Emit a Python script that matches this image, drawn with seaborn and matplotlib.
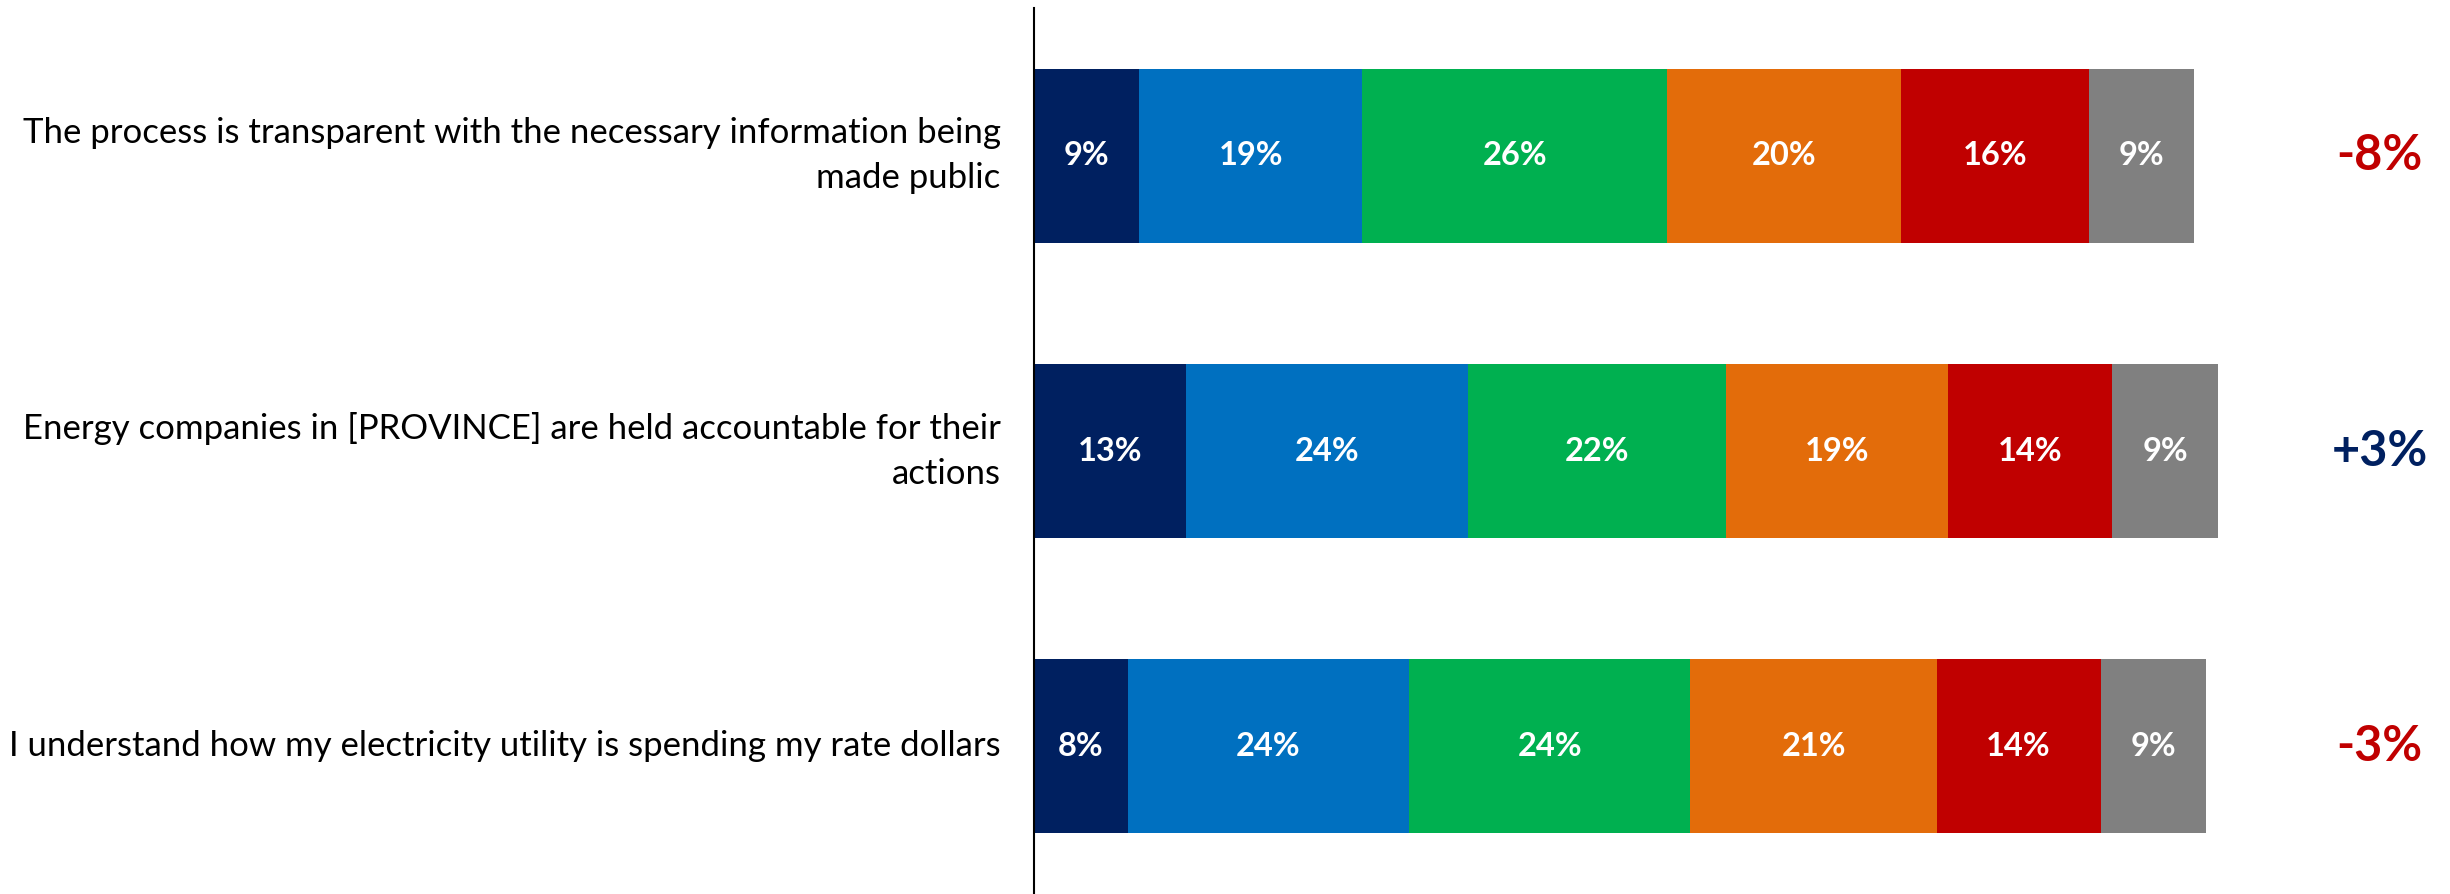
import numpy as np
import pandas as pd
import matplotlib
matplotlib.use("Agg")
import matplotlib.pyplot as plt
import seaborn as sns

# Survey statements (wrapped as they appear beside the bars)
statements = [
    "The process is transparent with the necessary information being\nmade public",
    "Energy companies in [PROVINCE] are held accountable for their\nactions",
    "I understand how my electricity utility is spending my rate dollars",
]

# Response shares (%) per statement, left to right
strongly_agree = [9, 13, 8]
somewhat_agree = [19, 24, 24]
neither = [26, 22, 24]
somewhat_disagree = [20, 19, 21]
strongly_disagree = [16, 14, 14]
dont_know = [9, 9, 9]

# Net change labels shown at the right
net_change = [-8, 3, -3]

segments = [strongly_agree, somewhat_agree, neither,
            somewhat_disagree, strongly_disagree, dont_know]
colors = ["#002060", "#0070C0", "#00B050", "#E36C0A", "#C00000", "#808080"]

sns.set_theme(style="white")
plt.rcParams["font.family"] = ["Lato", "DejaVu Sans"]

W, H, DPI = 2450, 894, 100
fig = plt.figure(figsize=(W / DPI, H / DPI), dpi=DPI)
ax_left = 1034 / W
ax = fig.add_axes([ax_left, 0.0, 1.0 - ax_left, 1.0 - 8 / H])

vals = np.array(segments, dtype=float)          # shape (6, 3)
cum = np.cumsum(vals, axis=0)

# Stacked bars: draw cumulative totals from the longest to the shortest
for i in reversed(range(len(segments))):
    df = pd.DataFrame({"statement": statements, "value": cum[i]})
    sns.barplot(data=df, x="value", y="statement", orient="h",
                color=colors[i], saturation=1, width=0.59,
                linewidth=0, ax=ax)

# Percent labels centred in each segment
starts = cum - vals
for i in range(len(segments)):
    for j in range(len(statements)):
        ax.text(starts[i, j] + vals[i, j] / 2, j, f"{int(vals[i, j])}%",
                ha="center", va="center", color="white",
                fontsize=23.5, fontweight="bold")

# Net change to the right of each bar
for j, n in enumerate(net_change):
    ax.text(114.8, j, f"{n:+d}%", ha="center", va="center",
            color="#C00000" if n < 0 else "#002060",
            fontsize=35, fontweight="bold")

ax.set_xlim(0, 120.8)
ax.set_ylim(2.5, -0.5)
ax.set_xlabel("")
ax.set_ylabel("")
ax.set_xticks([])
ax.tick_params(axis="y", length=0, pad=24, labelsize=25, labelcolor="black")
for lbl in ax.get_yticklabels():
    lbl.set_linespacing(1.5)
    lbl.set_verticalalignment("center")
for s in ["top", "right", "bottom"]:
    ax.spines[s].set_visible(False)
ax.spines["left"].set_color("black")
ax.spines["left"].set_linewidth(1.5)

fig.savefig("out.png", dpi=DPI)
